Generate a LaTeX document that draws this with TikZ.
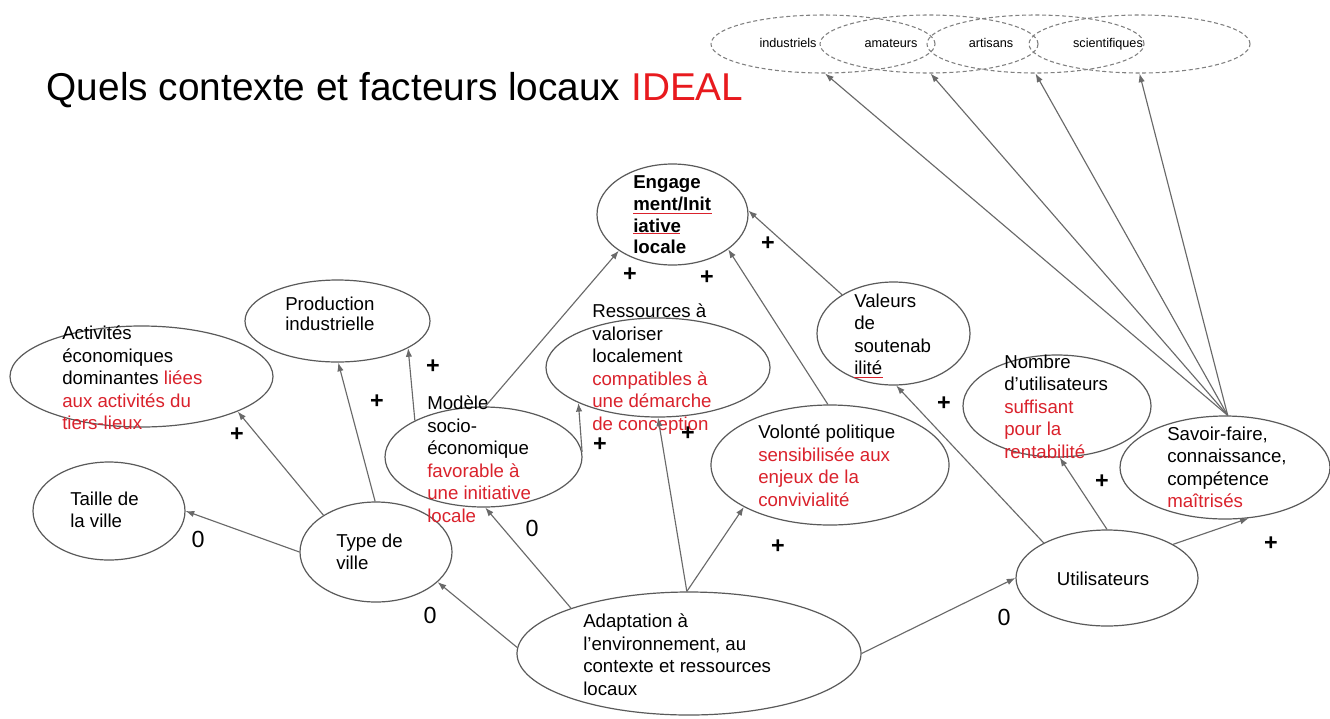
\documentclass[tikz,border=0pt]{standalone}
\usepackage{fontspec}
\setmainfont{Liberation Sans}
\usetikzlibrary{shapes.geometric,arrows.meta}
\definecolor{txtred}{RGB}{218,34,44}
\definecolor{titred}{RGB}{232,26,30}
\definecolor{edgegray}{RGB}{90,90,90}
\definecolor{lingray}{RGB}{105,105,105}
\newcommand\mkell[6][]{\node[ell,#1,minimum width=#5*1.5pt,minimum height=#6*1.5pt] (#2) at (#3,#4) {};}
\newcommand\rd[1]{\textcolor{txtred}{#1}}
\begin{document}
\begin{tikzpicture}[x=0.75pt,y=-0.75pt]
\tikzset{
  ell/.style={draw=edgegray,line width=0.9pt,ellipse,inner sep=0pt},
  dell/.style={draw=gray,line width=0.8pt,dash pattern=on 3pt off 2pt},
  txt/.style={anchor=north west,inner sep=0pt,align=left,font=\fontsize{14}{16.9}\selectfont},
  arr/.style={draw=lingray,line width=0.85pt,-{Latex[length=6.5pt,width=4.8pt]}},
  sign/.style={font=\fontsize{17.5}{19}\selectfont,inner sep=0pt},
  plus/.style={font=\fontsize{17.5}{19}\selectfont\bfseries,inner sep=0pt},
  small/.style={font=\fontsize{9.5}{11}\selectfont,inner sep=0pt,anchor=base},
  squig/.style={draw=txtred,line width=0.6pt}
}
\fill[white] (0,0) rectangle (1330,718);
\useasboundingbox (0,0) rectangle (1330,718);

% title
\node[anchor=base west,inner sep=0pt,font=\fontsize{29.1}{34}\selectfont] (title) at (46.5,100)
  {Quels contexte et facteurs locaux \textcolor{titred}{IDEAL}};

% top dashed ellipses
\mkell[dell]{ind}{823}{44}{112}{29}
\mkell[dell]{ama}{929}{44}{109}{29}
\mkell[dell]{art}{1035.5}{44}{108.5}{29}
\mkell[dell]{sci}{1139.5}{44}{110.5}{29}
\node[small] (tind) at (788,47.5) {industriels};
\node[small] (tama) at (891,47.5) {amateurs};
\node[small] (tart) at (991,47.5) {artisans};
\node[small] (tsci) at (1108,47.5) {scientifiques};

% ellipses
\mkell{taille}{109}{511}{76}{49}
\mkell{act}{141.5}{376.5}{131.5}{50.5}
\mkell{prod}{337.5}{321}{92.5}{41}
\mkell{type}{376}{552}{76}{50}
\mkell{mod}{483.5}{457}{98.5}{50}
\mkell{eng}{672.5}{214.5}{75.5}{50.5}
\mkell{res}{658}{367.5}{112}{49.5}
\mkell{vol}{830}{465}{119}{60}
\mkell{val}{893.5}{333.5}{76.5}{51.5}
\mkell{nom}{1057}{406}{94}{51}
\mkell{sav}{1225}{467.5}{105}{51.5}
\mkell{util}{1107}{578}{91}{48}
\mkell{adapt}{689}{653.5}{172}{61.5}

% texts
\node[txt] (ttaille) at (70,491.5) {Taille de\\la ville};
\node[txt] (tact) at (62,325.5) {Activités\\économiques\\dominantes \rd{liées}\\\rd{aux activités du}\\\rd{tiers-lieux}};
\node[txt,font=\fontsize{14}{15.2}\selectfont] (tprod) at (285,296.5) {Production\\industrielle};
\node[txt] (ttype) at (336,533.5) {Type de\\ville};
\node[txt] (tmod) at (427,395.5) {Modèle\\socio-\\économique\\\rd{favorable à}\\\rd{une initiative}\\\rd{locale}};
\node[txt,font=\fontsize{14}{16.3}\selectfont\bfseries] (teng) at (633,175.5) {Engage\\ment/Init\\iative\\locale};
\node[txt] (tres) at (592,303.5) {Ressources à\\valoriser\\localement\\\rd{compatibles à}\\\rd{une démarche}\\\rd{de conception}};
\node[txt] (tval) at (854,293.5) {Valeurs\\de\\soutenab\\ilité};
\node[txt] (tvol) at (758,424.5) {Volonté politique\\\rd{sensibilisée aux}\\\rd{enjeux de la}\\\rd{convivialité}};
\node[txt] (tnom) at (1004,354.5) {Nombre\\d’utilisateurs\\\rd{suffisant}\\\rd{pour la}\\\rd{rentabilité}};
\node[txt] (tsav) at (1167,426.5) {Savoir-faire,\\connaissance,\\compétence\\\rd{maîtrisés}};
\node[inner sep=0pt,font=\fontsize{14}{16.9}\selectfont] (tutil) at (1103,579) {Utilisateurs};
\node[txt] (tadapt) at (583,613.5) {Adaptation à\\l'environnement, au\\contexte et ressources\\locaux};

% spell-check underlines
\draw[squig] (633,213) -- (712,213);
\draw[squig] (633,233) -- (680,233);
\draw[squig] (854,377) -- (883,377);

% arrows
\draw[arr] (type.180) -- (taille.0);
\draw[arr] (type.145.6) -- (act.-20.8);
\draw[arr] (type.91) -- (prod.-89);
\draw[arr] (mod.152.3) -- (prod.-21.8);
\draw[arr] (mod.88) -- (eng.-146);
\draw[arr] (mod.3) -- (res.-156.4);
\draw[arr] (adapt.92.8) -- (res.-90);
\draw[arr] (adapt.92.8) -- (vol.-154);
\draw[arr] (adapt.159.8) -- (mod.-88);
\draw[arr] (adapt.178.8) -- (type.-26.2);
\draw[arr] (adapt.0.5) -- (util.180);
\draw[arr] (vol.92) -- (eng.-32.6);
\draw[arr] (val.143.2) -- (eng.3);
\draw[arr] (util.151) -- (val.-87);
\draw[arr] (util.90) -- (nom.-87);
\draw[arr] (util.27.3) -- (sav.-65);
\draw[arr] (sav.87.5) -- (ind.-86);
\draw[arr] (sav.87.5) -- (ama.-87);
\draw[arr] (sav.87.5) -- (art.-90);
\draw[arr] (sav.87.5) -- (sci.-90);

% signs
\node[sign] (s1) at (198,539) {0};
\node[plus] (s2) at (237,435) {+};
\node[plus] (s3) at (377,402) {+};
\node[plus] (s4) at (433,367) {+};
\node[plus] (s5) at (630,275) {+};
\node[plus] (s6) at (707,278) {+};
\node[plus] (s7) at (768,244) {+};
\node[plus] (s8) at (600,445) {+};
\node[plus] (s9) at (688,434) {+};
\node[sign] (s10) at (532,528) {0};
\node[plus] (s11) at (778,547) {+};
\node[sign] (s12) at (430,615) {0};
\node[sign] (s13) at (1004,617) {0};
\node[plus] (s14) at (944,404) {+};
\node[plus] (s15) at (1102,482) {+};
\node[plus] (s16) at (1271,544) {+};
\end{tikzpicture}
\end{document}
